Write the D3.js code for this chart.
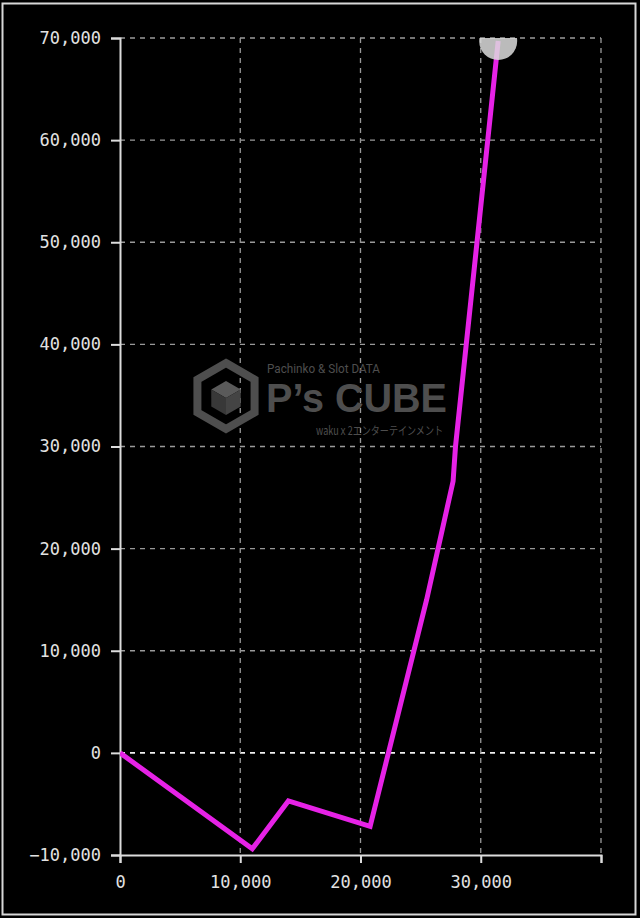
<!DOCTYPE html>
<html>
<head>
<meta charset="utf-8">
<script src="https://cdn.jsdelivr.net/npm/d3@7"></script>
<style>
  html, body { margin: 0; padding: 0; background: #000; }
  svg { display: block; }
</style>
</head>
<body>
<svg id="chart"></svg>
<script>
// data
const balls = [0, 11000, 14000, 20800, 25500, 27700, 27900, 31450];
const diff = [0, -9400, -4700, -7200, 15000, 26600, 30000, 69700];
const xTicks = [0, 10000, 20000, 30000, 40000];
const xTickLabels = ["0", "10,000", "20,000", "30,000", ""];
const yTicks = [-10000, 0, 10000, 20000, 30000, 40000, 50000, 60000, 70000];

const width = 640, height = 918;
const margin = { top: 38, right: 39, bottom: 63, left: 120 };
const innerW = width - margin.left - margin.right;
const innerH = height - margin.top - margin.bottom;

const svg = d3.select("#chart").attr("width", width).attr("height", height);

svg.append("rect").attr("width", width).attr("height", height).attr("fill", "#000");
// outer frame
svg.append("rect")
  .attr("x", 2.5).attr("y", 3.5)
  .attr("width", 633).attr("height", 911)
  .attr("fill", "none").attr("stroke", "#d8d8d8").attr("stroke-width", 2);

const x = d3.scaleLinear().domain([0, 40000]).range([0, innerW]);
const y = d3.scaleLinear().domain([-10000, 70000]).range([innerH, 0]);

const g = svg.append("g").attr("transform", `translate(${margin.left},${margin.top})`);

svg.append("defs").append("clipPath").attr("id", "plot-area")
  .append("rect").attr("width", innerW).attr("height", innerH);

// watermark (sits under the grid)
const wm = svg.append("g").attr("fill", "#4e4e4e");
const hex = (cx, cy, r) => d3.range(6).map((i) => {
  const a = Math.PI / 3 * i - Math.PI / 2;
  return [cx + r * Math.cos(a), cy + r * Math.sin(a)];
});
wm.append("path")
  .attr("d", "M" + hex(226, 396, 33).join("L") + "Z")
  .attr("fill", "none").attr("stroke", "#4e4e4e").attr("stroke-width", 8)
  .attr("stroke-linejoin", "miter");
const inner = hex(226, 398, 17);
const c0 = [226, 398];
wm.append("path").attr("d", `M${inner[0]}L${inner[1]}L${c0}L${inner[5]}Z`).attr("fill", "#5a5a5a");
wm.append("path").attr("d", `M${c0}L${inner[1]}L${inner[2]}L${inner[3]}Z`).attr("fill", "#444");
wm.append("path").attr("d", `M${c0}L${inner[3]}L${inner[4]}L${inner[5]}Z`).attr("fill", "#383838");
wm.append("text").attr("x", 267).attr("y", 372.5)
  .attr("font-family", "Liberation Sans Narrow, Roboto, sans-serif").attr("font-size", 12.5)
  .attr("textLength", 113).attr("lengthAdjust", "spacingAndGlyphs")
  .text("Pachinko & Slot DATA");
wm.append("text").attr("x", 266).attr("y", 412)
  .attr("font-family", "Liberation Sans, sans-serif").attr("font-weight", "bold").attr("font-size", 40)
  .attr("textLength", 181).attr("lengthAdjust", "spacingAndGlyphs")
  .text("P’s CUBE");
wm.append("text").attr("x", 316).attr("y", 434.5)
  .attr("font-family", "Noto Sans CJK JP, sans-serif").attr("font-size", 11.5)
  .attr("textLength", 127).attr("lengthAdjust", "spacingAndGlyphs")
  .text("wakuｘ2エンターテインメント");

// horizontal grid lines
g.append("g")
  .selectAll("line")
  .data(yTicks.filter((d) => d !== -10000))
  .join("line")
  .attr("x1", 0).attr("x2", innerW)
  .attr("y1", (d) => y(d)).attr("y2", (d) => y(d))
  .attr("stroke", (d) => (d === 0 ? "#f0f0f0" : "#9a9a9a"))
  .attr("stroke-width", (d) => (d === 0 ? 1.6 : 1.3))
  .attr("stroke-dasharray", "5,5");

// vertical grid lines
g.append("g")
  .selectAll("line")
  .data(xTicks.filter((d) => d !== 0))
  .join("line")
  .attr("x1", (d) => x(d)).attr("x2", (d) => x(d))
  .attr("y1", 0).attr("y2", innerH)
  .attr("stroke", "#9a9a9a").attr("stroke-width", 1.3)
  .attr("stroke-dasharray", "5,5");

// axes
const yAxis = g.append("g")
  .call(d3.axisLeft(y).tickValues(yTicks).tickFormat(d3.format(",")).tickSize(9).tickPadding(10));
const xAxis = g.append("g")
  .attr("transform", `translate(0,${innerH})`)
  .call(d3.axisBottom(x).tickValues(xTicks).tickFormat((d, i) => xTickLabels[i]).tickSize(8).tickPadding(13));

[xAxis, yAxis].forEach((ax) => {
  ax.select(".domain").attr("stroke", "#dcdcdc").attr("stroke-width", 2);
  ax.selectAll(".tick line").attr("stroke", "#dcdcdc").attr("stroke-width", 2);
  ax.selectAll(".tick text")
    .attr("fill", "#e2e2e2")
    .attr("font-family", "DejaVu Sans Mono, monospace")
    .attr("font-size", 17);
});

// the line
const points = balls.map((b, i) => [b, diff[i]]);
g.append("path")
  .datum(points)
  .attr("clip-path", "url(#plot-area)")
  .attr("fill", "none")
  .attr("stroke", "#e622e6")
  .attr("stroke-width", 5)
  .attr("stroke-linejoin", "miter")
  .attr("d", d3.line().x((d) => x(d[0])).y((d) => y(d[1])));

// end marker
const last = points[points.length - 1];
g.append("circle")
  .attr("clip-path", "url(#plot-area)")
  .attr("cx", x(last[0])).attr("cy", y(last[1]))
  .attr("r", 19)
  .attr("fill", "#dcdcdc").attr("fill-opacity", 0.85);
</script>
</body>
</html>
